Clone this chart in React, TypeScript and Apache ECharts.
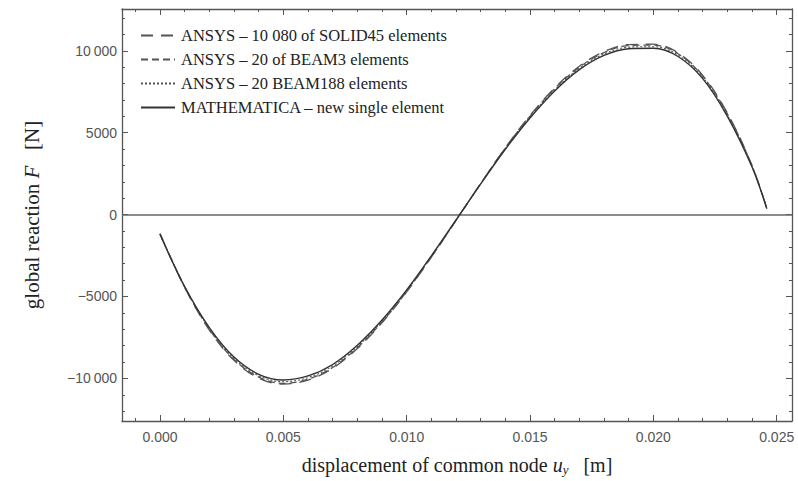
import React, { useEffect, useRef } from "react";
import * as echarts from "echarts";

// displacement of common node u_y [m]
const uy = [0, 0.001, 0.002, 0.003, 0.004, 0.005, 0.006, 0.007, 0.008, 0.009, 0.01, 0.011, 0.012, 0.013, 0.014, 0.015, 0.016, 0.017, 0.018, 0.019, 0.02, 0.021, 0.022, 0.023, 0.024, 0.0246];

// global reaction F [N]
const solid45 = [-1150, -4450, -7050, -8900, -9980, -10350, -10100, -9380, -8180, -6600, -4720, -2600, -360, 1900, 4080, 6050, 7740, 9060, 9950, 10380, 10400, 9880, 8500, 6200, 3000, 380];
const beam3 = [-1180, -4420, -7000, -8850, -9920, -10300, -10050, -9330, -8130, -6560, -4690, -2580, -350, 1890, 4060, 6010, 7690, 9000, 9890, 10320, 10350, 9820, 8450, 6150, 2980, 370];
const beam188 = [-1200, -4400, -6950, -8780, -9840, -10200, -9950, -9240, -8060, -6500, -4650, -2550, -340, 1880, 4030, 5960, 7620, 8930, 9810, 10220, 10250, 9740, 8380, 6080, 2950, 360];
const mathematica = [-1200, -4400, -6900, -8700, -9750, -10100, -9850, -9150, -7980, -6440, -4600, -2520, -330, 1870, 3990, 5900, 7550, 8850, 9720, 10120, 10150, 9650, 8300, 6000, 2900, 360];

const seriesNames = [
  "ANSYS – 10 080 of SOLID45 elements",
  "ANSYS – 20 of BEAM3 elements",
  "ANSYS – 20 BEAM188 elements",
  "MATHEMATICA – new single element",
];

const xMajorTicks = [0, 0.005, 0.01, 0.015, 0.02, 0.025];
const xMinorTicks = [-0.001, 0.001, 0.002, 0.003, 0.004, 0.006, 0.007, 0.008, 0.009, 0.011, 0.012, 0.013, 0.014, 0.016, 0.017, 0.018, 0.019, 0.021, 0.022, 0.023, 0.024];
const yMajorTicks = [-10000, -5000, 0, 5000, 10000];
const yMinorTicks = [-12000, -11000, -9000, -8000, -7000, -6000, -4000, -3000, -2000, -1000, 1000, 2000, 3000, 4000, 6000, 7000, 8000, 9000, 11000, 12000];

const X_MIN = -0.00154;
const X_MAX = 0.02562;
const Y_MIN = -12600;
const Y_MAX = 12550;

const SANS = "'Liberation Sans', Arial, sans-serif";
const SERIF = "'Liberation Serif', 'Times New Roman', serif";
const FRAME = "#555";

function fmtY(v: number): string {
  const a = Math.abs(v);
  let s = String(a);
  if (a >= 10000) s = s.slice(0, s.length - 3) + "\u2009" + s.slice(-3);
  return (v < 0 ? "\u2212" : "") + s;
}

function pairs(ys: number[]) {
  return uy.map((x, i) => [x, ys[i]]);
}

export default function App() {
  const ref = useRef<HTMLDivElement>(null);
  useEffect(() => {
    document.body.style.margin = "0";
    if (!ref.current) return;
    const chart = echarts.init(ref.current, null, { renderer: "svg" });

    const xAxisBase = (position: "bottom" | "top", major: boolean, labels: boolean) => ({
      type: "value",
      position,
      min: X_MIN,
      max: X_MAX,
      gridIndex: 0,
      splitLine: { show: false },
      axisLine: { show: major, onZero: false, lineStyle: { color: FRAME, width: 1.3 } },
      axisTick: {
        show: true,
        inside: true,
        length: major ? 6 : 3,
        customValues: major ? xMajorTicks : xMinorTicks,
        lineStyle: { color: FRAME, width: 1 },
      },
      axisLabel: labels
        ? {
            show: true,
            customValues: xMajorTicks,
            formatter: (v: number) => v.toFixed(3),
            fontFamily: SANS,
            fontSize: 14,
            color: "#555",
            margin: 9,
          }
        : { show: false },
    });

    const yAxisBase = (position: "left" | "right", major: boolean, labels: boolean) => ({
      type: "value",
      position,
      min: Y_MIN,
      max: Y_MAX,
      gridIndex: 0,
      splitLine: { show: false },
      axisLine: { show: major, onZero: false, lineStyle: { color: FRAME, width: 1.3 } },
      axisTick: {
        show: true,
        inside: true,
        length: major ? 6 : 3,
        customValues: major ? yMajorTicks : yMinorTicks,
        lineStyle: { color: FRAME, width: 1 },
      },
      axisLabel: labels
        ? {
            show: true,
            customValues: yMajorTicks,
            formatter: (v: number) => fmtY(v),
            fontFamily: SANS,
            fontSize: 14,
            color: "#555",
            margin: 5,
          }
        : { show: false },
    });

    const xMain: any = xAxisBase("bottom", true, true);
    xMain.name = "displacement of common node {i|u}{s|y}   [m]";
    xMain.nameLocation = "middle";
    xMain.nameGap = 32;
    xMain.nameTextStyle = {
      fontFamily: SERIF,
      fontSize: 20,
      color: "#222",
      rich: {
        i: { fontFamily: SERIF, fontSize: 20, fontStyle: "italic", color: "#222" },
        s: { fontFamily: SERIF, fontSize: 13, fontStyle: "italic", color: "#222", padding: [10, 0, 0, 0] },
      },
    };

    const yMain: any = yAxisBase("left", true, true);
    yMain.name = "global reaction {i|F}   [N]";
    yMain.nameLocation = "middle";
    yMain.nameGap = 80;
    yMain.nameTextStyle = {
      fontFamily: SERIF,
      fontSize: 21,
      color: "#222",
      rich: {
        i: { fontFamily: SERIF, fontSize: 21, fontStyle: "italic", color: "#222" },
      },
    };

    const lineStyles = [
      { color: "#555", width: 1.3, type: [12, 8] },
      { color: "#555", width: 1.3, type: [7, 4] },
      { color: "#555", width: 1.1, type: [2, 2] },
      { color: "#333", width: 1.4, type: "solid" },
    ];
    const datasets = [solid45, beam3, beam188, mathematica];

    const series: any[] = datasets.map((ys, i) => ({
      name: seriesNames[i],
      type: "line",
      xAxisIndex: 0,
      yAxisIndex: 0,
      data: pairs(ys),
      smooth: 0.35,
      symbol: "none",
      showSymbol: false,
      lineStyle: lineStyles[i],
      itemStyle: { color: lineStyles[i].color },
      z: i === 3 ? 4 : 3,
    }));
    series[3].markLine = {
      silent: true,
      symbol: "none",
      label: { show: false },
      lineStyle: { color: "#666", width: 1.5, type: "solid" },
      data: [{ yAxis: 0 }],
      z: 1,
    };

    chart.setOption({
      animation: false,
      backgroundColor: "#fff",
      grid: { left: 122, right: 6, top: 9, bottom: 57, containLabel: false },
      legend: {
        orient: "vertical",
        left: 135,
        top: 22,
        itemWidth: 34,
        itemHeight: 14,
        itemGap: 7,
        itemStyle: { opacity: 0 },
        textStyle: { fontFamily: SERIF, fontSize: 16.5, color: "#222", padding: [0, 0, 0, 1] },
        data: seriesNames,
      },
      xAxis: [
        xMain,
        xAxisBase("bottom", false, false),
        xAxisBase("top", true, false),
        xAxisBase("top", false, false),
      ],
      yAxis: [
        yMain,
        yAxisBase("left", false, false),
        yAxisBase("right", true, false),
        yAxisBase("right", false, false),
      ],
      series,
    });
    return () => chart.dispose();
  }, []);
  return <div ref={ref} style={{ width: 798, height: 481 }} />;
}
